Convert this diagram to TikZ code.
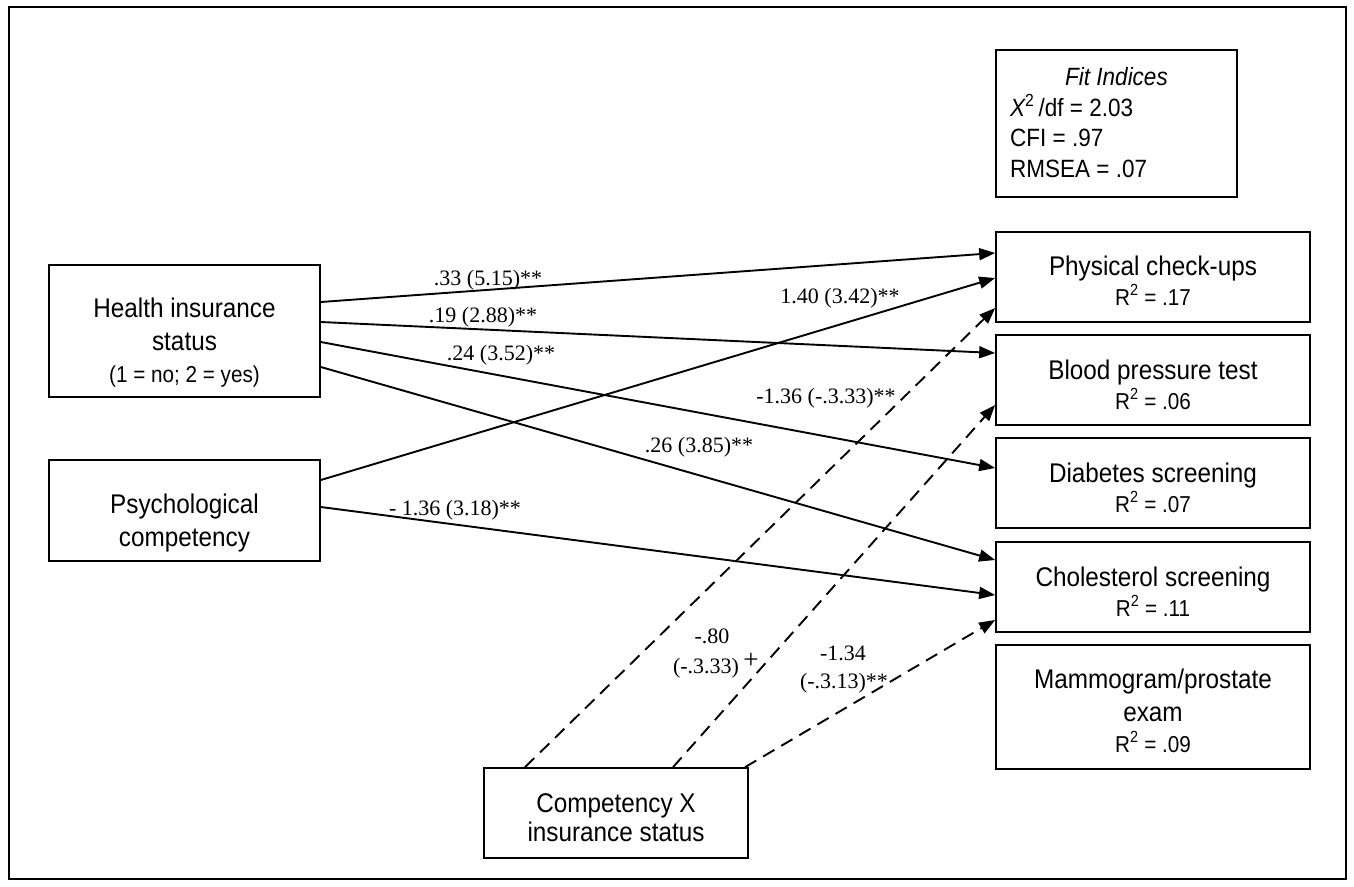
\documentclass[tikz,border=0pt]{standalone}
\usepackage{fontspec}
\setmainfont{Liberation Sans}[FakeStretch=0.9]
\newfontfamily\lblfont{Liberation Serif}
\usetikzlibrary{arrows.meta}
\begin{document}
\begin{tikzpicture}[x=1pt,y=-1pt,
  box/.style={draw, line width=1.7pt, inner sep=0pt},
  ttl/.style={anchor=base, inner sep=0pt, font=\fontsize{27}{32}\selectfont},
  sub/.style={anchor=base, inner sep=0pt, font=\fontsize{23}{27}\selectfont},
  fit/.style={anchor=base west, inner sep=0pt, font=\fontsize{25}{30}\selectfont},
  lbl/.style={anchor=base, inner sep=0pt, font=\lblfont\fontsize{22}{26}\selectfont},
  arr/.style={line width=1.9pt, -{Triangle[length=16pt,width=12pt]}},
  darr/.style={arr, dash pattern=on 13pt off 8pt},
]
\useasboundingbox (0,0) rectangle (1354,886);
\draw[line width=2.2pt] (9,7) rectangle (1346,879);

% boxes
\node[box, minimum width=241pt, minimum height=147pt] (F) at (1116.5,123.5) {};
\node[box, minimum width=271pt, minimum height=132pt] (H) at (184.5,331) {};
\node[box, minimum width=271pt, minimum height=101pt] (Ps) at (184.5,510.5) {};
\node[box, minimum width=264pt, minimum height=90pt] (C) at (616,813) {};
\node[box, minimum width=314pt, minimum height=90pt] (P) at (1153,277) {};
\node[box, minimum width=314pt, minimum height=90pt] (B) at (1153,380) {};
\node[box, minimum width=314pt, minimum height=90pt] (D) at (1153,483) {};
\node[box, minimum width=314pt, minimum height=90pt] (Ch) at (1153,587) {};
\node[box, minimum width=314pt, minimum height=124pt] (M) at (1153,707) {};

% box texts
\node[fit, anchor=base] (F1) at (1116.5,85) {\itshape Fit Indices};
\node[fit] (F2) at (1010,116) {{\itshape X}\textsuperscript{2}\,/df = 2.03};
\node[fit] (F3) at (1010,146) {CFI = .97};
\node[fit] (F4) at (1010,177) {RMSEA = .07};

\node[ttl] (H1) at (184.5,317) {Health insurance};
\node[ttl] (H2) at (184.5,350) {status};
\node[sub] (H3) at (184.5,382) {(1 = no; 2 = yes)};

\node[ttl] (Ps1) at (184.5,513) {Psychological};
\node[ttl] (Ps2) at (184.5,546) {competency};

\node[ttl] (C1) at (616,812) {Competency X};
\node[ttl] (C2) at (616,841) {insurance status};

\node[ttl] (P1) at (1153,275) {Physical check-ups};
\node[sub] (P2) at (1153,305) {R\textsuperscript{2} = .17};
\node[ttl] (B1) at (1153,379) {Blood pressure test};
\node[sub] (B2) at (1153,409) {R\textsuperscript{2} = .06};
\node[ttl] (D1) at (1153,482) {Diabetes screening};
\node[sub] (D2) at (1153,512) {R\textsuperscript{2} = .07};
\node[ttl] (Ch1) at (1153,586) {Cholesterol screening};
\node[sub] (Ch2) at (1153,616) {R\textsuperscript{2} = .11};
\node[ttl] (M1) at (1153,688) {Mammogram/prostate};
\node[ttl] (M2) at (1153,721) {exam};
\node[sub] (M3) at (1153,752) {R\textsuperscript{2} = .09};

% connectors
\draw[arr] (H.east |- 0,302) -- (P.west |- 0,253);
\draw[arr] (Ps.east |- 0,480) -- (P.west |- 0,278);
\draw[darr] (C.north -| 525,0) -- (P.west |- 0,308);
\draw[arr] (H.east |- 0,322) -- (B.west |- 0,353);
\draw[darr] (C.north -| 673,0) -- (B.west |- 0,405);
\draw[arr] (H.east |- 0,342) -- (D.west |- 0,468);
\draw[arr] (H.east |- 0,367) -- (Ch.west |- 0,560);
\draw[arr] (Ps.east |- 0,507) -- (Ch.west |- 0,595);
\draw[darr] (C.north -| 745,0) -- (Ch.west |- 0,620);

% labels
\node[lbl] (L1) at (488,285) {.33 (5.15)**};
\node[lbl] (L2) at (483,322) {.19 (2.88)**};
\node[lbl] (L3) at (501,360) {.24 (3.52)**};
\node[lbl] (L4) at (840,303) {1.40 (3.42)**};
\node[lbl] (L5) at (826,403) {-1.36 (-.3.33)**};
\node[lbl] (L6) at (699,452) {.26 (3.85)**};
\node[lbl] (L7) at (455,515) {- 1.36 (3.18)**};
\node[lbl] (L8) at (712,643) {-.80};
\node[lbl] (L9) at (706,673) {(-.3.33)};
\node[lbl, font=\lblfont\fontsize{27}{27}\selectfont] (L9p) at (751,668) {+};
\node[lbl] (L10) at (843,660) {-1.34};
\node[lbl] (L11) at (844,688) {(-.3.13)**};
\end{tikzpicture}
\end{document}
